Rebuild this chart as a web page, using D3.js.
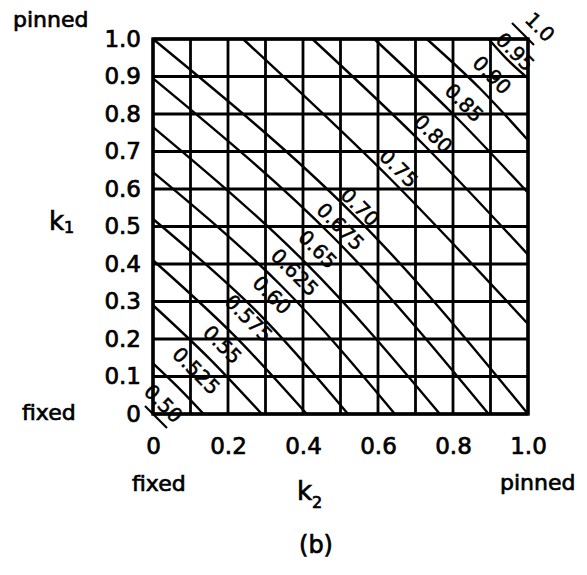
<!DOCTYPE html>
<html><head><meta charset="utf-8">
<script src="https://cdn.jsdelivr.net/npm/d3@7"></script>
<style>
body{margin:0;background:#fff}
svg{display:block}
text{font-family:"DejaVu Sans",sans-serif;fill:#000;stroke:#000;stroke-width:0.7px}
</style>
</head><body>
<svg id="chart" width="587" height="575"></svg>
<script>
// ---- data ----
const gridValues = [0,0.1,0.2,0.3,0.4,0.5,0.6,0.7,0.8,0.9,1.0];
const yTickValues = [0,0.1,0.2,0.3,0.4,0.5,0.6,0.7,0.8,0.9,1.0];
const yTickLabels = ["0","0.1","0.2","0.3","0.4","0.5","0.6","0.7","0.8","0.9","1.0"];
const xTickValues = [0,0.2,0.4,0.6,0.8,1.0];
const xTickLabels = ["0","0.2","0.4","0.6","0.8","1.0"];

// contour values (effective length ratio)
const contourLabels = ["0.50","0.525","0.55","0.575","0.60","0.625","0.65","0.675","0.70","0.75","0.80","0.85","0.90","0.95","1.0"];
// contour lines as [k2, k1] points; null = single point at a corner (leader only)
const contourLines = [
  null,
  [[0,0.135],[0.069,0.069],[0.135,0]],
  [[0,0.29],[0.149,0.149],[0.29,0]],
  [[0,0.41],[0.213,0.213],[0.41,0]],
  [[0,0.52],[0.275,0.275],[0.52,0]],
  [[0,0.645],[0.342,0.342],[0.645,0]],
  [[0,0.765],[0.405,0.405],[0.765,0]],
  [[0,0.895],[0.476,0.476],[0.895,0]],
  [[0,1.0],[0.533,0.533],[1.0,0]],
  [[0.24,1.0],[0.63,0.63],[1.0,0.24]],
  [[0.425,1.0],[0.72,0.72],[1.0,0.425]],
  [[0.59,1.0],[0.80,0.80],[1.0,0.59]],
  [[0.73,1.0],[0.87,0.87],[1.0,0.73]],
  [[0.895,1.0],[0.945,0.945],[1.0,0.895]],
  null
];
const contourCorners = [[0,0],null,null,null,null,null,null,null,null,null,null,null,null,null,[1,1]];
// label centre position along the k1 = k2 diagonal
const labelDiag = [0.028,0.115,0.185,0.255,0.317,0.378,0.439,0.50,0.552,0.655,0.747,0.83,0.904,0.966,1.032];

// ---- layout ----
const svg = d3.select("#chart");
const x = d3.scaleLinear().domain([0,1]).range([153,528]);
const y = d3.scaleLinear().domain([0,1]).range([414,39]);

// grid
const g = svg.append("g");
g.selectAll("line.v").data(gridValues).join("line")
  .attr("x1", d=>x(d)).attr("x2", d=>x(d)).attr("y1", y(0)).attr("y2", y(1))
  .attr("stroke","#000").attr("stroke-width",2.8);
g.selectAll("line.h").data(gridValues).join("line").attr("class","h")
  .attr("y1", d=>y(d)).attr("y2", d=>y(d)).attr("x1", x(0)).attr("x2", x(1))
  .attr("stroke","#000").attr("stroke-width",2.8);
g.append("rect").attr("x",x(0)).attr("y",y(1)).attr("width",x(1)-x(0)).attr("height",y(0)-y(1))
  .attr("fill","none").attr("stroke","#000").attr("stroke-width",3.4);

// contour lines
const line = d3.line().x(d=>x(d[0])).y(d=>y(d[1])).curve(d3.curveNatural);
svg.append("g").selectAll("path").data(contourLines.filter(d=>d)).join("path")
  .attr("d", line).attr("fill","none").attr("stroke","#000").attr("stroke-width",2.4);

// leaders at the two corner contours
const leaderExt = [[-8,14],null,null,null,null,null,null,null,null,null,null,null,null,null,[-16,6]];
contourCorners.forEach((c,i)=>{
  if(!c) return;
  const px = x(c[0]), py = y(c[1]);
  const [a,b] = leaderExt[i];
  svg.append("line").attr("x1",px+a).attr("y1",py+a).attr("x2",px+b).attr("y2",py+b)
    .attr("stroke","#000").attr("stroke-width",2.2);
});

// contour labels
svg.append("g").selectAll("text").data(contourLabels).join("text")
  .attr("transform",(d,i)=>`translate(${x(labelDiag[i])},${y(labelDiag[i])}) rotate(45)`)
  .attr("text-anchor","middle").attr("dominant-baseline","central")
  .attr("font-size",20).style("stroke-width","0.5px").text(d=>d);

// axes
const yAxis = d3.axisLeft(y).tickValues(yTickValues).tickFormat((d,i)=>yTickLabels[i]).tickSize(0).tickPadding(12);
const ya = svg.append("g").attr("transform",`translate(${x(0)},0)`).call(yAxis);
ya.select(".domain").remove();
ya.selectAll("text").attr("font-size",23).attr("font-family","DejaVu Sans");

const xAxis = d3.axisBottom(x).tickValues(xTickValues).tickFormat((d,i)=>xTickLabels[i]).tickSize(0).tickPadding(24);
const xa = svg.append("g").attr("transform",`translate(0,${y(0)})`).call(xAxis);
xa.select(".domain").remove();
xa.selectAll("text").attr("font-size",23).attr("font-family","DejaVu Sans");

// annotation text
function txt(s, xx, yy, size, anchor){
  return svg.append("text").attr("x",xx).attr("y",yy).attr("font-size",size)
    .attr("text-anchor",anchor||"start").text(s);
}
txt("pinned",13,27,22);
txt("fixed",22,420,22);
txt("fixed",132,491,22);
txt("pinned",500,490,22);
txt("(b)",316,553,24,"middle");
// k1
const k1 = svg.append("text").attr("x",49).attr("y",230).attr("font-size",26);
k1.append("tspan").text("k");
k1.append("tspan").attr("font-size",16).attr("dy",3).text("1");
const k2 = svg.append("text").attr("x",297).attr("y",500).attr("font-size",26);
k2.append("tspan").text("k");
k2.append("tspan").attr("font-size",16).attr("dy",8).text("2");
</script>
</body></html>
